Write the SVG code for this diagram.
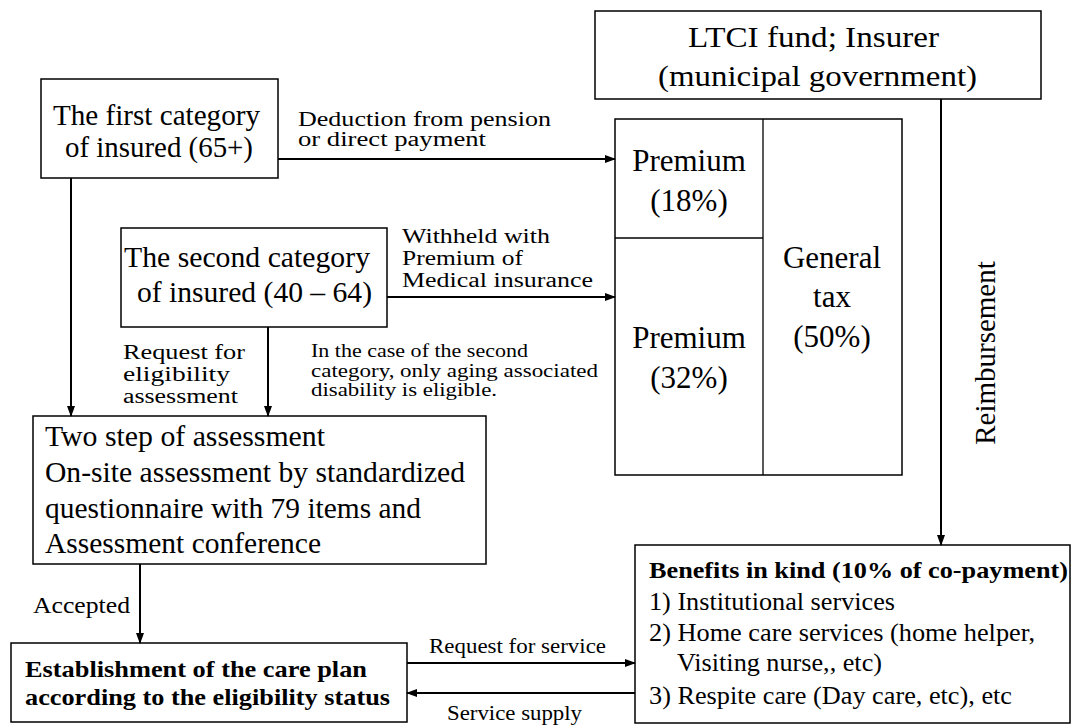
<svg xmlns="http://www.w3.org/2000/svg" width="1073" height="725" viewBox="0 0 1073 725" font-family="'Liberation Serif', 'Times New Roman', Times, serif">
<style>
text{font-family:'Liberation Serif','Times New Roman',Times,serif;fill:#000}
.box{fill:#fff;stroke:#000;stroke-width:1.5}
.ln{fill:none;stroke:#000;stroke-width:1.3}
.c{fill:none;stroke:#000;stroke-width:2}
.b{font-weight:bold}
</style>
<defs>
<marker id="ah" markerUnits="userSpaceOnUse" markerWidth="11" markerHeight="8" refX="10" refY="4" orient="auto">
<path d="M0,0 L11,4 L0,8 z" fill="#000"/>
</marker>
</defs>
<rect width="1073" height="725" fill="#fff"/>

<g id="ltci">
<rect class="box" x="595" y="11" width="446" height="88"/>
<text x="688" y="47" font-size="29" textLength="251" lengthAdjust="spacingAndGlyphs">LTCI fund; Insurer</text>
<text x="658" y="86" font-size="29" textLength="319" lengthAdjust="spacingAndGlyphs">(municipal government)</text>
</g>

<g id="funding">
<rect class="box" x="615" y="119" width="287" height="356"/>
<line class="ln" x1="763" y1="119" x2="763" y2="475"/>
<line class="ln" x1="615" y1="238" x2="763" y2="238"/>
<text x="689" y="171" font-size="31" text-anchor="middle">Premium</text>
<text x="689" y="211" font-size="31" text-anchor="middle">(18%)</text>
<text x="689" y="348" font-size="31" text-anchor="middle">Premium</text>
<text x="689" y="388" font-size="31" text-anchor="middle">(32%)</text>
<text x="832" y="268" font-size="31" text-anchor="middle">General</text>
<text x="832" y="307" font-size="31" text-anchor="middle">tax</text>
<text x="832" y="347" font-size="31" text-anchor="middle">(50%)</text>
</g>

<g id="first">
<rect class="box" x="41" y="79" width="237" height="99"/>
<text x="53" y="125" font-size="30" textLength="207" lengthAdjust="spacingAndGlyphs">The first category</text>
<text x="65" y="157" font-size="30" textLength="188" lengthAdjust="spacingAndGlyphs">of insured (65+)</text>
</g>

<g id="second">
<rect class="box" x="121" y="228" width="266" height="99"/>
<text x="124" y="267" font-size="30" textLength="246" lengthAdjust="spacingAndGlyphs">The second category</text>
<text x="137" y="302" font-size="30" textLength="235" lengthAdjust="spacingAndGlyphs">of insured (40 – 64)</text>
</g>

<g id="assessment">
<rect class="box" x="33" y="416" width="453" height="148"/>
<text x="45" y="446" font-size="30" textLength="280" lengthAdjust="spacingAndGlyphs">Two step of assessment</text>
<text x="45" y="482" font-size="30" textLength="420" lengthAdjust="spacingAndGlyphs">On-site assessment by standardized</text>
<text x="45" y="518" font-size="30" textLength="376" lengthAdjust="spacingAndGlyphs">questionnaire with 79 items and</text>
<text x="45" y="553" font-size="30" textLength="276" lengthAdjust="spacingAndGlyphs">Assessment conference</text>
</g>

<g id="careplan">
<rect class="box" x="11" y="643" width="396" height="79"/>
<text class="b" x="25" y="677" font-size="24" textLength="342" lengthAdjust="spacingAndGlyphs">Establishment of the care plan</text>
<text class="b" x="25" y="705" font-size="24" textLength="365" lengthAdjust="spacingAndGlyphs">according to the eligibility status</text>
</g>

<g id="benefits">
<rect class="box" x="635" y="545" width="435" height="178"/>
<text class="b" x="649" y="578" font-size="23" textLength="419" lengthAdjust="spacingAndGlyphs">Benefits in kind (10% of co-payment)</text>
<text x="649" y="610" font-size="25" textLength="246" lengthAdjust="spacingAndGlyphs">1) Institutional services</text>
<text x="649" y="641" font-size="25" textLength="386" lengthAdjust="spacingAndGlyphs">2) Home care services (home helper,</text>
<text x="677" y="671" font-size="25" textLength="205" lengthAdjust="spacingAndGlyphs">Visiting nurse,, etc)</text>
<text x="649" y="704" font-size="25" textLength="363" lengthAdjust="spacingAndGlyphs">3) Respite care (Day care, etc), etc</text>
</g>

<g id="connectors">
<line class="c" x1="278" y1="159" x2="615" y2="159" marker-end="url(#ah)"/>
<line class="c" x1="387" y1="297" x2="615" y2="297" marker-end="url(#ah)"/>
<line class="c" x1="71" y1="178" x2="71" y2="416" marker-end="url(#ah)"/>
<line class="c" x1="268" y1="327" x2="268" y2="416" marker-end="url(#ah)"/>
<line class="c" x1="140" y1="564" x2="140" y2="643" marker-end="url(#ah)"/>
<line class="c" x1="941" y1="99" x2="941" y2="545" marker-end="url(#ah)"/>
<line class="c" x1="407" y1="663" x2="635" y2="663" marker-end="url(#ah)"/>
<line class="c" x1="635" y1="693" x2="407" y2="693" marker-end="url(#ah)"/>
</g>

<g id="labels">
<text x="298" y="126" font-size="20" textLength="253" lengthAdjust="spacingAndGlyphs">Deduction from pension</text>
<text x="298" y="146" font-size="20" textLength="188" lengthAdjust="spacingAndGlyphs">or direct payment</text>
<text x="402" y="243" font-size="20" textLength="148" lengthAdjust="spacingAndGlyphs">Withheld with</text>
<text x="402" y="265" font-size="20" textLength="121" lengthAdjust="spacingAndGlyphs">Premium of</text>
<text x="402" y="287" font-size="20" textLength="191" lengthAdjust="spacingAndGlyphs">Medical insurance</text>
<text x="123" y="359" font-size="20" textLength="122" lengthAdjust="spacingAndGlyphs">Request for</text>
<text x="123" y="381" font-size="20" textLength="107" lengthAdjust="spacingAndGlyphs">eligibility</text>
<text x="123" y="403" font-size="20" textLength="115" lengthAdjust="spacingAndGlyphs">assessment</text>
<text x="311" y="357" font-size="18" textLength="217" lengthAdjust="spacingAndGlyphs">In the case of the second</text>
<text x="311" y="377" font-size="18" textLength="287" lengthAdjust="spacingAndGlyphs">category, only aging associated</text>
<text x="311" y="396" font-size="18" textLength="186" lengthAdjust="spacingAndGlyphs">disability is eligible.</text>
<text x="33" y="613" font-size="23" textLength="97" lengthAdjust="spacingAndGlyphs">Accepted</text>
<text x="429" y="653" font-size="21" textLength="177" lengthAdjust="spacingAndGlyphs">Request for service</text>
<text x="447" y="720" font-size="21" textLength="135" lengthAdjust="spacingAndGlyphs">Service supply</text>
<text x="995" y="353" font-size="29" text-anchor="middle" transform="rotate(-90 995 353)">Reimbursement</text>
</g>
</svg>
